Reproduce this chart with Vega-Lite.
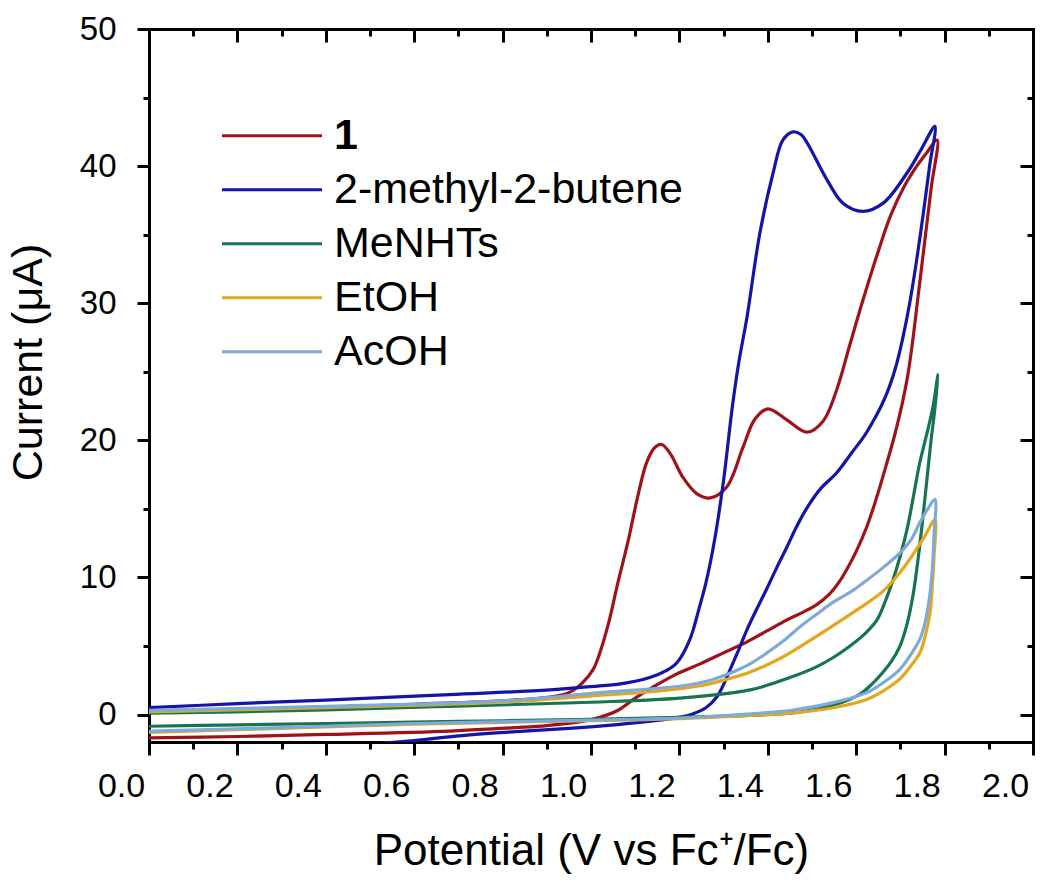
{
"$schema": "https://vega.github.io/schema/vega-lite/v6.json",
"width": 884, "height": 713,
"autosize": {"type": "none"},
"padding": {"left": 149, "top": 29, "right": 17, "bottom": 145},
"background": "white",
"config": {
  "view": {"stroke": null},
  "font": "Liberation Sans",
  "axis": {"grid": false, "domainColor": "#000", "tickColor": "#000", "labelColor": "#000", "titleColor": "#000", "domainWidth": 3, "tickWidth": 3, "titleFontWeight": "normal", "labelFont": "Liberation Sans", "titleFont": "Liberation Sans", "domainCap": "square", "labelFlush": false, "labelOverlap": false}
},
"data": {"values": [
{"s":"1","i":0,"v":0,"c":0.2},{"s":"1","i":1,"v":0.2,"c":0.35},{"s":"1","i":2,"v":0.4,"c":0.5},{"s":"1","i":3,"v":0.6,"c":0.75},{"s":"1","i":4,"v":0.8,"c":1.0},{"s":"1","i":5,"v":0.9,"c":1.25},{"s":"1","i":6,"v":0.95,"c":1.6},{"s":"1","i":7,"v":0.98,"c":2.3},{"s":"1","i":8,"v":1.005,"c":3.3},{"s":"1","i":9,"v":1.02,"c":4.5},{"s":"1","i":10,"v":1.04,"c":6.7},{"s":"1","i":11,"v":1.06,"c":9.5},{"s":"1","i":12,"v":1.085,"c":12.8},{"s":"1","i":13,"v":1.105,"c":15.8},{"s":"1","i":14,"v":1.126,"c":18.4},{"s":"1","i":15,"v":1.145,"c":19.5},{"s":"1","i":16,"v":1.16,"c":19.7},{"s":"1","i":17,"v":1.18,"c":19.0},{"s":"1","i":18,"v":1.208,"c":17.3},{"s":"1","i":19,"v":1.24,"c":16.1},{"s":"1","i":20,"v":1.27,"c":15.8},{"s":"1","i":21,"v":1.307,"c":16.6},{"s":"1","i":22,"v":1.344,"c":19.5},{"s":"1","i":23,"v":1.37,"c":21.5},{"s":"1","i":24,"v":1.4,"c":22.3},{"s":"1","i":25,"v":1.443,"c":21.5},{"s":"1","i":26,"v":1.489,"c":20.6},{"s":"1","i":27,"v":1.525,"c":21.4},{"s":"1","i":28,"v":1.555,"c":23.6},{"s":"1","i":29,"v":1.585,"c":26.9},{"s":"1","i":30,"v":1.615,"c":30.2},{"s":"1","i":31,"v":1.65,"c":33.8},{"s":"1","i":32,"v":1.678,"c":36.4},{"s":"1","i":33,"v":1.71,"c":38.6},{"s":"1","i":34,"v":1.737,"c":40.0},{"s":"1","i":35,"v":1.76,"c":41.0},{"s":"1","i":36,"v":1.783,"c":41.9},
{"s":"1","i":37,"v":1.77,"c":38.5},{"s":"1","i":38,"v":1.755,"c":34.5},{"s":"1","i":39,"v":1.74,"c":30.5},{"s":"1","i":40,"v":1.728,"c":27.3},{"s":"1","i":41,"v":1.717,"c":24.8},{"s":"1","i":42,"v":1.705,"c":22.8},{"s":"1","i":43,"v":1.688,"c":20.5},{"s":"1","i":44,"v":1.668,"c":18.2},{"s":"1","i":45,"v":1.645,"c":15.7},{"s":"1","i":46,"v":1.624,"c":13.7},{"s":"1","i":47,"v":1.6,"c":11.9},{"s":"1","i":48,"v":1.579,"c":10.6},{"s":"1","i":49,"v":1.56,"c":9.6},{"s":"1","i":50,"v":1.54,"c":8.8},{"s":"1","i":51,"v":1.51,"c":8.0},{"s":"1","i":52,"v":1.475,"c":7.4},{"s":"1","i":53,"v":1.44,"c":6.85},{"s":"1","i":54,"v":1.398,"c":6.1},{"s":"1","i":55,"v":1.353,"c":5.3},{"s":"1","i":56,"v":1.3,"c":4.5},{"s":"1","i":57,"v":1.247,"c":3.7},{"s":"1","i":58,"v":1.19,"c":2.9},{"s":"1","i":59,"v":1.14,"c":2.0},{"s":"1","i":60,"v":1.1,"c":1.2},{"s":"1","i":61,"v":1.06,"c":0.3},{"s":"1","i":62,"v":1.02,"c":-0.2},{"s":"1","i":63,"v":0.98,"c":-0.5},{"s":"1","i":64,"v":0.9,"c":-0.8},{"s":"1","i":65,"v":0.83,"c":-0.95},{"s":"1","i":66,"v":0.68,"c":-1.2},{"s":"1","i":67,"v":0.4,"c":-1.45},{"s":"1","i":68,"v":0.2,"c":-1.6},{"s":"1","i":69,"v":0,"c":-1.7},

{"s":"2-methyl-2-butene","i":0,"v":0,"c":0.5},{"s":"2-methyl-2-butene","i":1,"v":0.2,"c":0.8},{"s":"2-methyl-2-butene","i":2,"v":0.4,"c":1.05},{"s":"2-methyl-2-butene","i":3,"v":0.68,"c":1.46},{"s":"2-methyl-2-butene","i":4,"v":0.907,"c":1.8},{"s":"2-methyl-2-butene","i":5,"v":1.02,"c":2.1},{"s":"2-methyl-2-butene","i":6,"v":1.059,"c":2.2},{"s":"2-methyl-2-butene","i":7,"v":1.133,"c":2.7},{"s":"2-methyl-2-butene","i":8,"v":1.17,"c":3.2},{"s":"2-methyl-2-butene","i":9,"v":1.195,"c":3.8},{"s":"2-methyl-2-butene","i":10,"v":1.224,"c":5.5},{"s":"2-methyl-2-butene","i":11,"v":1.245,"c":7.8},{"s":"2-methyl-2-butene","i":12,"v":1.26,"c":9.6},{"s":"2-methyl-2-butene","i":13,"v":1.28,"c":12.8},{"s":"2-methyl-2-butene","i":14,"v":1.3,"c":17.1},{"s":"2-methyl-2-butene","i":15,"v":1.32,"c":22.5},{"s":"2-methyl-2-butene","i":16,"v":1.335,"c":25.8},{"s":"2-methyl-2-butene","i":17,"v":1.353,"c":29.0},{"s":"2-methyl-2-butene","i":18,"v":1.382,"c":35.1},{"s":"2-methyl-2-butene","i":19,"v":1.412,"c":39.5},{"s":"2-methyl-2-butene","i":20,"v":1.434,"c":41.9},{"s":"2-methyl-2-butene","i":21,"v":1.457,"c":42.5},{"s":"2-methyl-2-butene","i":22,"v":1.475,"c":42.3},{"s":"2-methyl-2-butene","i":23,"v":1.489,"c":41.7},{"s":"2-methyl-2-butene","i":24,"v":1.534,"c":39.0},{"s":"2-methyl-2-butene","i":25,"v":1.57,"c":37.3},{"s":"2-methyl-2-butene","i":26,"v":1.615,"c":36.7},{"s":"2-methyl-2-butene","i":27,"v":1.661,"c":37.3},{"s":"2-methyl-2-butene","i":28,"v":1.715,"c":39.5},{"s":"2-methyl-2-butene","i":29,"v":1.745,"c":41.1},{"s":"2-methyl-2-butene","i":30,"v":1.778,"c":42.9},
{"s":"2-methyl-2-butene","i":31,"v":1.766,"c":40.0},{"s":"2-methyl-2-butene","i":32,"v":1.752,"c":36.6},{"s":"2-methyl-2-butene","i":33,"v":1.737,"c":33.2},{"s":"2-methyl-2-butene","i":34,"v":1.721,"c":30.0},{"s":"2-methyl-2-butene","i":35,"v":1.705,"c":27.4},{"s":"2-methyl-2-butene","i":36,"v":1.69,"c":25.4},{"s":"2-methyl-2-butene","i":37,"v":1.675,"c":23.9},{"s":"2-methyl-2-butene","i":38,"v":1.658,"c":22.6},{"s":"2-methyl-2-butene","i":39,"v":1.64,"c":21.5},{"s":"2-methyl-2-butene","i":40,"v":1.62,"c":20.4},{"s":"2-methyl-2-butene","i":41,"v":1.59,"c":19.1},{"s":"2-methyl-2-butene","i":42,"v":1.555,"c":17.6},{"s":"2-methyl-2-butene","i":43,"v":1.52,"c":16.5},{"s":"2-methyl-2-butene","i":44,"v":1.489,"c":15.1},{"s":"2-methyl-2-butene","i":45,"v":1.465,"c":13.7},{"s":"2-methyl-2-butene","i":46,"v":1.443,"c":12.2},{"s":"2-methyl-2-butene","i":47,"v":1.42,"c":10.7},{"s":"2-methyl-2-butene","i":48,"v":1.398,"c":9.2},{"s":"2-methyl-2-butene","i":49,"v":1.375,"c":7.7},{"s":"2-methyl-2-butene","i":50,"v":1.353,"c":6.2},{"s":"2-methyl-2-butene","i":51,"v":1.335,"c":4.8},{"s":"2-methyl-2-butene","i":52,"v":1.315,"c":3.3},{"s":"2-methyl-2-butene","i":53,"v":1.3,"c":2.2},{"s":"2-methyl-2-butene","i":54,"v":1.285,"c":1.3},{"s":"2-methyl-2-butene","i":55,"v":1.26,"c":0.5},{"s":"2-methyl-2-butene","i":56,"v":1.23,"c":0.05},{"s":"2-methyl-2-butene","i":57,"v":1.208,"c":-0.15},{"s":"2-methyl-2-butene","i":58,"v":1.13,"c":-0.5},{"s":"2-methyl-2-butene","i":59,"v":1.06,"c":-0.73},{"s":"2-methyl-2-butene","i":60,"v":0.95,"c":-1.0},{"s":"2-methyl-2-butene","i":61,"v":0.83,"c":-1.24},{"s":"2-methyl-2-butene","i":62,"v":0.7,"c":-1.55},{"s":"2-methyl-2-butene","i":63,"v":0.6,"c":-1.9},{"s":"2-methyl-2-butene","i":64,"v":0.45,"c":-2.25},{"s":"2-methyl-2-butene","i":65,"v":0.2,"c":-2.6},{"s":"2-methyl-2-butene","i":66,"v":0,"c":-2.9},

{"s":"MeNHTs","i":0,"v":0,"c":0.1},{"s":"MeNHTs","i":1,"v":0.2,"c":0.2},{"s":"MeNHTs","i":2,"v":0.4,"c":0.35},{"s":"MeNHTs","i":3,"v":0.68,"c":0.6},{"s":"MeNHTs","i":4,"v":1.0,"c":0.9},{"s":"MeNHTs","i":5,"v":1.2,"c":1.2},{"s":"MeNHTs","i":6,"v":1.36,"c":1.8},{"s":"MeNHTs","i":7,"v":1.45,"c":2.7},{"s":"MeNHTs","i":8,"v":1.511,"c":3.5},{"s":"MeNHTs","i":9,"v":1.55,"c":4.2},{"s":"MeNHTs","i":10,"v":1.586,"c":5.0},{"s":"MeNHTs","i":11,"v":1.62,"c":5.9},{"s":"MeNHTs","i":12,"v":1.647,"c":6.9},{"s":"MeNHTs","i":13,"v":1.665,"c":8.2},{"s":"MeNHTs","i":14,"v":1.683,"c":9.8},{"s":"MeNHTs","i":15,"v":1.7,"c":11.6},{"s":"MeNHTs","i":16,"v":1.715,"c":13.5},{"s":"MeNHTs","i":17,"v":1.73,"c":16.0},{"s":"MeNHTs","i":18,"v":1.744,"c":18.4},{"s":"MeNHTs","i":19,"v":1.76,"c":20.5},{"s":"MeNHTs","i":20,"v":1.774,"c":22.5},{"s":"MeNHTs","i":21,"v":1.785,"c":24.8},
{"s":"MeNHTs","i":22,"v":1.779,"c":22.6},{"s":"MeNHTs","i":23,"v":1.768,"c":19.6},{"s":"MeNHTs","i":24,"v":1.753,"c":15.0},{"s":"MeNHTs","i":25,"v":1.741,"c":11.6},{"s":"MeNHTs","i":26,"v":1.729,"c":8.8},{"s":"MeNHTs","i":27,"v":1.715,"c":6.6},{"s":"MeNHTs","i":28,"v":1.699,"c":5.0},{"s":"MeNHTs","i":29,"v":1.68,"c":3.9},{"s":"MeNHTs","i":30,"v":1.661,"c":3.1},{"s":"MeNHTs","i":31,"v":1.635,"c":2.2},{"s":"MeNHTs","i":32,"v":1.609,"c":1.5},{"s":"MeNHTs","i":33,"v":1.55,"c":0.7},{"s":"MeNHTs","i":34,"v":1.511,"c":0.4},{"s":"MeNHTs","i":35,"v":1.45,"c":0.1},{"s":"MeNHTs","i":36,"v":1.32,"c":-0.1},{"s":"MeNHTs","i":37,"v":1.2,"c":-0.2},{"s":"MeNHTs","i":38,"v":1.0,"c":-0.35},{"s":"MeNHTs","i":39,"v":0.7,"c":-0.5},{"s":"MeNHTs","i":40,"v":0.4,"c":-0.65},{"s":"MeNHTs","i":41,"v":0.2,"c":-0.75},{"s":"MeNHTs","i":42,"v":0,"c":-0.85},

{"s":"EtOH","i":0,"v":0,"c":0.2},{"s":"EtOH","i":1,"v":0.4,"c":0.5},{"s":"EtOH","i":2,"v":0.8,"c":0.9},{"s":"EtOH","i":3,"v":1.02,"c":1.4},{"s":"EtOH","i":4,"v":1.15,"c":1.7},{"s":"EtOH","i":5,"v":1.247,"c":2.1},{"s":"EtOH","i":6,"v":1.31,"c":2.6},{"s":"EtOH","i":7,"v":1.36,"c":3.1},{"s":"EtOH","i":8,"v":1.434,"c":4.2},{"s":"EtOH","i":9,"v":1.49,"c":5.3},{"s":"EtOH","i":10,"v":1.548,"c":6.5},{"s":"EtOH","i":11,"v":1.6,"c":7.6},{"s":"EtOH","i":12,"v":1.661,"c":9.0},{"s":"EtOH","i":13,"v":1.7,"c":10.4},{"s":"EtOH","i":14,"v":1.729,"c":11.7},{"s":"EtOH","i":15,"v":1.755,"c":13.0},{"s":"EtOH","i":16,"v":1.778,"c":14.2},
{"s":"EtOH","i":17,"v":1.776,"c":11.5},{"s":"EtOH","i":18,"v":1.772,"c":9.3},{"s":"EtOH","i":19,"v":1.767,"c":7.4},{"s":"EtOH","i":20,"v":1.755,"c":5.6},{"s":"EtOH","i":21,"v":1.744,"c":4.5},{"s":"EtOH","i":22,"v":1.72,"c":3.4},{"s":"EtOH","i":23,"v":1.699,"c":2.6},{"s":"EtOH","i":24,"v":1.66,"c":1.7},{"s":"EtOH","i":25,"v":1.624,"c":1.1},{"s":"EtOH","i":26,"v":1.548,"c":0.5},{"s":"EtOH","i":27,"v":1.45,"c":0.1},{"s":"EtOH","i":28,"v":1.398,"c":0.0},{"s":"EtOH","i":29,"v":1.2,"c":-0.3},{"s":"EtOH","i":30,"v":1.0,"c":-0.45},{"s":"EtOH","i":31,"v":0.6,"c":-0.7},{"s":"EtOH","i":32,"v":0.3,"c":-1.0},{"s":"EtOH","i":33,"v":0,"c":-1.3},

{"s":"AcOH","i":0,"v":0,"c":0.3},{"s":"AcOH","i":1,"v":0.4,"c":0.6},{"s":"AcOH","i":2,"v":0.8,"c":1.0},{"s":"AcOH","i":3,"v":1.02,"c":1.6},{"s":"AcOH","i":4,"v":1.208,"c":2.1},{"s":"AcOH","i":5,"v":1.27,"c":2.5},{"s":"AcOH","i":6,"v":1.321,"c":3.1},{"s":"AcOH","i":7,"v":1.36,"c":3.7},{"s":"AcOH","i":8,"v":1.398,"c":4.5},{"s":"AcOH","i":9,"v":1.44,"c":5.5},{"s":"AcOH","i":10,"v":1.473,"c":6.4},{"s":"AcOH","i":11,"v":1.51,"c":7.3},{"s":"AcOH","i":12,"v":1.548,"c":8.2},{"s":"AcOH","i":13,"v":1.59,"c":9.0},{"s":"AcOH","i":14,"v":1.624,"c":9.8},{"s":"AcOH","i":15,"v":1.66,"c":10.7},{"s":"AcOH","i":16,"v":1.699,"c":11.8},{"s":"AcOH","i":17,"v":1.725,"c":12.8},{"s":"AcOH","i":18,"v":1.744,"c":14.0},{"s":"AcOH","i":19,"v":1.762,"c":15.0},{"s":"AcOH","i":20,"v":1.778,"c":15.7},
{"s":"AcOH","i":21,"v":1.776,"c":13.0},{"s":"AcOH","i":22,"v":1.772,"c":10.5},{"s":"AcOH","i":23,"v":1.766,"c":8.6},{"s":"AcOH","i":24,"v":1.755,"c":6.6},{"s":"AcOH","i":25,"v":1.744,"c":5.5},{"s":"AcOH","i":26,"v":1.72,"c":4.2},{"s":"AcOH","i":27,"v":1.699,"c":3.3},{"s":"AcOH","i":28,"v":1.66,"c":2.3},{"s":"AcOH","i":29,"v":1.624,"c":1.6},{"s":"AcOH","i":30,"v":1.548,"c":0.87},{"s":"AcOH","i":31,"v":1.45,"c":0.3},{"s":"AcOH","i":32,"v":1.398,"c":0.15},{"s":"AcOH","i":33,"v":1.2,"c":-0.25},{"s":"AcOH","i":34,"v":1.0,"c":-0.4},{"s":"AcOH","i":35,"v":0.6,"c":-0.65},{"s":"AcOH","i":36,"v":0.3,"c":-0.95},{"s":"AcOH","i":37,"v":0,"c":-1.2}
]},
"resolve": {"axis": {"x": "independent", "y": "independent"}},
"layer": [
 {
  "mark": {"type": "line", "clip": true, "strokeWidth": 3.2, "interpolate": "catmull-rom"},
  "encoding": {
   "x": {"field": "v", "type": "quantitative", "scale": {"domain": [0, 2], "nice": false, "zero": false},
     "axis": {"orient": "bottom", "values": [0,0.2,0.4,0.6,0.8,1.0,1.2,1.4,1.6,1.8,2.0], "format": ".1f", "labelFontSize": 34, "labelOffset": -28, "tickSize": 13, "labelPadding": 14, "title": "Potential (V vs Fc⁺/Fc)", "titleFontSize": 44, "titleBaseline": "alphabetic", "titleY": 122}},
   "y": {"field": "c", "type": "quantitative", "scale": {"domain": [-2, 50], "nice": false, "zero": false},
     "axis": {"orient": "left", "values": [0,10,20,30,40,50], "labelFontSize": 33, "tickSize": 12, "labelPadding": 21, "title": "Current (μA)", "titleFontSize": 43, "titleX": -99, "titleY": 333, "titleBaseline": "bottom"}},
   "color": {"field": "s", "type": "nominal",
     "scale": {"domain": ["1", "2-methyl-2-butene", "MeNHTs", "EtOH", "AcOH"], "range": ["#A0121A", "#1414A8", "#177450", "#E2A71E", "#7EAAD9"]},
     "legend": {"orient": "none", "legendX": 71, "legendY": 80, "title": null, "symbolType": "stroke", "symbolSize": 10000, "symbolStrokeWidth": 3.2, "labelFontSize": 43, "labelFont": "Liberation Sans", "labelColor": "#000", "clipHeight": 53.5, "rowPadding": 0, "labelOffset": 10, "padding": 0, "labelLimit": 700,
       "encode": {"labels": {"update": {"fontWeight": {"signal": "datum.value === '1' ? 'bold' : 'normal'"}}}}}},
   "order": {"field": "i", "type": "quantitative"}
  }
 },
 {
  "mark": {"type": "point", "opacity": 0},
  "encoding": {
   "x": {"field": "v", "type": "quantitative", "scale": {"domain": [0, 2], "nice": false, "zero": false},
     "axis": {"orient": "bottom", "values": [0.1,0.3,0.5,0.7,0.9,1.1,1.3,1.5,1.7,1.9], "labels": false, "domain": false, "tickSize": 7, "title": null}},
   "y": {"field": "c", "type": "quantitative", "scale": {"domain": [-2, 50], "nice": false, "zero": false},
     "axis": {"orient": "left", "values": [5,15,25,35,45], "labels": false, "domain": false, "tickSize": 6, "title": null}}
  }
 },
 {
  "mark": {"type": "point", "opacity": 0},
  "encoding": {
   "x": {"field": "v", "type": "quantitative", "scale": {"domain": [0, 2], "nice": false, "zero": false},
     "axis": {"orient": "top", "values": [0,0.2,0.4,0.6,0.8,1.0,1.2,1.4,1.6,1.8,2.0], "labels": false, "tickSize": -13, "title": null}},
   "y": {"field": "c", "type": "quantitative", "scale": {"domain": [-2, 50], "nice": false, "zero": false},
     "axis": {"orient": "right", "values": [0,10,20,30,40,50], "labels": false, "tickSize": -13, "title": null}}
  }
 },
 {
  "mark": {"type": "point", "opacity": 0},
  "encoding": {
   "x": {"field": "v", "type": "quantitative", "scale": {"domain": [0, 2], "nice": false, "zero": false},
     "axis": {"orient": "top", "values": [0.1,0.3,0.5,0.7,0.9,1.1,1.3,1.5,1.7,1.9], "labels": false, "domain": false, "tickSize": -7, "title": null}},
   "y": {"field": "c", "type": "quantitative", "scale": {"domain": [-2, 50], "nice": false, "zero": false},
     "axis": {"orient": "right", "values": [5,15,25,35,45], "labels": false, "domain": false, "tickSize": -6, "title": null}}
  }
 }
]
}
